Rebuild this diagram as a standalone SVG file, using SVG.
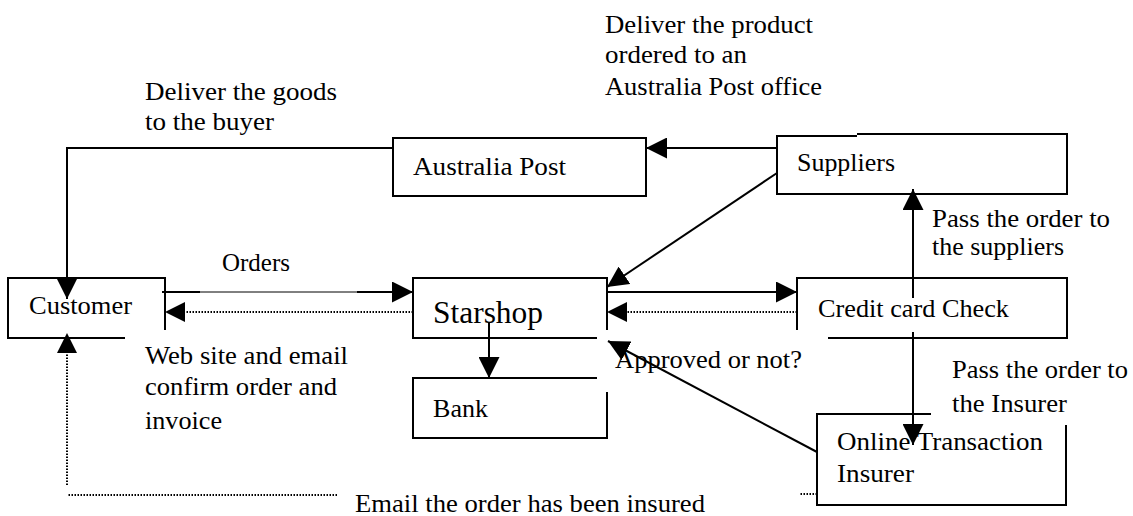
<svg xmlns="http://www.w3.org/2000/svg" width="1133" height="516" viewBox="0 0 1133 516">
<style>
  .box { fill: none; stroke: #000; stroke-width: 2; }
  .ln { fill: none; stroke: #000; stroke-width: 2; }
  .thin { fill: none; stroke: #000; stroke-width: 1; }
  .dot { fill: none; stroke: #000; stroke-width: 2; stroke-dasharray: 1.5 1.5; }
  text { font-family: "Liberation Serif", "Times New Roman", serif; font-size: 26px; fill: #000; }
  .big { font-size: 31px; }
</style>
<defs>
  <marker id="ah" markerUnits="userSpaceOnUse" markerWidth="21" markerHeight="21" viewBox="0 0 20 20" refX="20" refY="10" orient="auto">
    <path d="M0,0 L20,10 L0,20 Z" fill="#000"/>
  </marker>
</defs>
<rect width="1133" height="516" fill="#fff"/>

<g id="connectors">
  <path class="ln" d="M393,148 L67,148 L67,299" marker-end="url(#ah)"/>
  <path class="ln" d="M777,148 L646,148" marker-end="url(#ah)"/>
  <path class="ln" d="M162,292 L200,292"/>
  <path class="thin" d="M200,292 L357,292"/>
  <path class="ln" d="M357,292 L413,292" marker-end="url(#ah)"/>
  <path class="dot" d="M413,312 L185,312"/>
  <path d="M185,302 L165,312 L185,322 Z" fill="#000"/>
  <path class="ln" d="M489,322 L489,378" marker-end="url(#ah)"/>
  <path class="ln" d="M777,173 L607,287" marker-end="url(#ah)"/>
  <path class="ln" d="M607,292 L797,292" marker-end="url(#ah)"/>
  <path class="dot" d="M797,312 L627,312"/>
  <path d="M627,302 L607,312 L627,322 Z" fill="#000"/>
  <path class="ln" d="M913,298 L913,189" marker-end="url(#ah)"/>
  <path class="ln" d="M913,332 L913,445" marker-end="url(#ah)"/>
  <path class="ln" d="M817,452 L608,341" marker-end="url(#ah)"/>
  <path class="dot" d="M817,494 L800,494"/>
  <path class="dot" d="M337,495 L68,495"/>
  <path class="dot" d="M67,485 L67,353"/>
  <path d="M57,353 L67,333 L77,353 Z" fill="#000"/>
</g>

<g id="label-deliver-goods">
  <text x="145" y="100" textLength="192" lengthAdjust="spacingAndGlyphs">Deliver the goods</text>
  <text x="145" y="130" textLength="129" lengthAdjust="spacingAndGlyphs">to the buyer</text>
</g>
<g id="label-deliver-product">
  <text x="605" y="33" textLength="208" lengthAdjust="spacingAndGlyphs">Deliver the product</text>
  <text x="605" y="63" textLength="142" lengthAdjust="spacingAndGlyphs">ordered to an</text>
  <text x="605" y="95" textLength="217" lengthAdjust="spacingAndGlyphs">Australia Post office</text>
</g>
<g id="label-orders">
  <text x="222" y="271" textLength="68" lengthAdjust="spacingAndGlyphs">Orders</text>
</g>
<g id="label-pass-suppliers">
  <text x="932" y="227" textLength="178" lengthAdjust="spacingAndGlyphs">Pass the order to</text>
  <text x="932" y="255" textLength="132" lengthAdjust="spacingAndGlyphs">the suppliers</text>
</g>
<g id="label-web">
  <text x="145" y="364" textLength="203" lengthAdjust="spacingAndGlyphs">Web site and email</text>
  <text x="145" y="395" textLength="192" lengthAdjust="spacingAndGlyphs">confirm order and</text>
  <text x="145" y="429" textLength="77" lengthAdjust="spacingAndGlyphs">invoice</text>
</g>
<g id="label-approved">
  <text x="615" y="368" textLength="187" lengthAdjust="spacingAndGlyphs">Approved or not?</text>
</g>
<g id="label-pass-insurer">
  <text x="952" y="378" textLength="176" lengthAdjust="spacingAndGlyphs">Pass the order to</text>
  <text x="952" y="412" textLength="115" lengthAdjust="spacingAndGlyphs">the Insurer</text>
</g>
<g id="label-email">
  <text x="355" y="512" textLength="350" lengthAdjust="spacingAndGlyphs">Email the order has been insured</text>
</g>

<g id="node-australia-post">
  <rect class="box" x="393" y="138" width="253" height="58"/>
  <text x="413" y="175" textLength="153" lengthAdjust="spacingAndGlyphs">Australia Post</text>
</g>
<g id="node-suppliers">
  <path class="box" d="M857,136 L777,136 L777,194 L1067,194 L1067,134 L857,134"/>
  <text x="797" y="171" textLength="98" lengthAdjust="spacingAndGlyphs">Suppliers</text>
</g>
<g id="node-customer">
  <path class="box" d="M165,330 L165,278 L8,278 L8,338 L125,338"/>
  <text x="29" y="314" textLength="103" lengthAdjust="spacingAndGlyphs">Customer</text>
</g>
<g id="node-starshop">
  <path class="box" d="M607,330 L607,278 L413,278 L413,338 L597,338"/>
  <text class="big" x="433" y="323" textLength="110" lengthAdjust="spacingAndGlyphs">Starshop</text>
</g>
<g id="node-credit">
  <path class="box" d="M797,330 L797,278 L1067,278 L1067,338 L828,338"/>
  <text x="818" y="317" textLength="191" lengthAdjust="spacingAndGlyphs">Credit card Check</text>
</g>
<g id="node-bank">
  <path class="box" d="M597,378 L413,378 L413,438 L607,438 L607,392"/>
  <text x="433" y="417" textLength="55" lengthAdjust="spacingAndGlyphs">Bank</text>
</g>
<g id="node-insurer">
  <path class="box" d="M931,414 L817,414 L817,505 L1066,505 L1066,425"/>
  <text x="837" y="450" textLength="206" lengthAdjust="spacingAndGlyphs">Online Transaction</text>
  <text x="837" y="482" textLength="77" lengthAdjust="spacingAndGlyphs">Insurer</text>
</g>
</svg>
